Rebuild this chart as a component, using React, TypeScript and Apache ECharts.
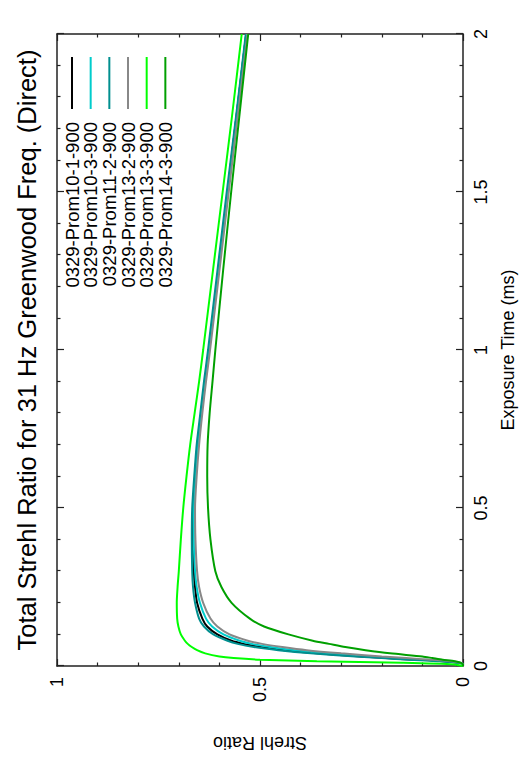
import React, { useEffect, useRef } from "react";
import * as echarts from "echarts";

const TITLE = "Total Strehl Ratio for 31 Hz Greenwood Freq. (Direct)";
const X_NAME = "Exposure Time (ms)";
const Y_NAME = "Strehl Ratio";

const TIMES = [0, 0.005, 0.01, 0.015, 0.02, 0.025, 0.03, 0.04, 0.05, 0.06, 0.07, 0.08, 0.1, 0.125, 0.15, 0.2, 0.25, 0.3, 0.4, 0.5, 0.6, 0.7, 0.8, 0.9, 1.0, 1.25, 1.5, 1.75, 2.0];

const NAMES = ["0329-Prom10-1-900", "0329-Prom10-3-900", "0329-Prom11-2-900", "0329-Prom13-2-900", "0329-Prom13-3-900", "0329-Prom14-3-900"];
const COLORS = ["#000000", "#00cccc", "#008f8f", "#888888", "#00ff00", "#00a000"];

const PROM10_1 = [0, 0, 0.01, 0.05, 0.12, 0.19, 0.25, 0.36, 0.44, 0.50, 0.54, 0.57, 0.605, 0.63, 0.642, 0.655, 0.66, 0.663, 0.665, 0.664, 0.660, 0.654, 0.645, 0.636, 0.626, 0.603, 0.580, 0.557, 0.534];
const PROM10_3 = [0, 0, 0.008, 0.04, 0.10, 0.17, 0.23, 0.335, 0.415, 0.475, 0.52, 0.55, 0.59, 0.618, 0.633, 0.648, 0.656, 0.66, 0.663, 0.663, 0.659, 0.653, 0.645, 0.636, 0.626, 0.603, 0.58, 0.557, 0.534];
const PROM11_2 = [0, 0, 0.012, 0.055, 0.13, 0.20, 0.265, 0.375, 0.455, 0.515, 0.555, 0.58, 0.615, 0.638, 0.65, 0.66, 0.665, 0.667, 0.668, 0.667, 0.662, 0.656, 0.647, 0.638, 0.628, 0.605, 0.582, 0.558, 0.535];
const PROM13_2 = [0, 0, 0.005, 0.03, 0.08, 0.14, 0.20, 0.30, 0.385, 0.445, 0.495, 0.53, 0.575, 0.605, 0.622, 0.64, 0.65, 0.655, 0.659, 0.66, 0.656, 0.65, 0.642, 0.633, 0.623, 0.600, 0.577, 0.554, 0.531];
const PROM13_3 = [0, 0.02, 0.15, 0.36, 0.50, 0.565, 0.60, 0.635, 0.655, 0.668, 0.678, 0.685, 0.695, 0.701, 0.704, 0.705, 0.703, 0.700, 0.695, 0.689, 0.681, 0.672, 0.661, 0.650, 0.640, 0.616, 0.592, 0.568, 0.545];
const PROM14_3 = [0, 0, 0.005, 0.02, 0.05, 0.075, 0.10, 0.18, 0.24, 0.29, 0.33, 0.37, 0.43, 0.49, 0.525, 0.57, 0.595, 0.61, 0.622, 0.628, 0.630, 0.629, 0.624, 0.617, 0.610, 0.591, 0.571, 0.550, 0.529];

const SERIES_VALUES = [PROM10_1, PROM10_3, PROM11_2, PROM13_2, PROM13_3, PROM14_3];

const FONT = "'Liberation Sans', Arial, Helvetica, sans-serif";

export default function App() {
  const ref = useRef<HTMLDivElement>(null);
  useEffect(() => {
    if (!ref.current) return;
    const chart = echarts.init(ref.current, null, { renderer: "svg" });
    const axisCommon = {
      type: "value" as const,
      axisLine: { show: true, onZero: false, lineStyle: { color: "#222", width: 1.5 } },
      axisTick: { show: true, inside: true, length: 7, lineStyle: { color: "#222", width: 1.2 } },
      minorTick: { show: true, splitNumber: 5, length: 3.5, lineStyle: { color: "#222", width: 1.2 } },
      splitLine: { show: false },
      minorSplitLine: { show: false },
    };
    const legendGraphics: any[] = [];
    NAMES.forEach((n, i) => {
      const y = 72 + i * 18.67;
      legendGraphics.push({
        type: "line",
        shape: { x1: 651, y1: y, x2: 703, y2: y },
        style: { stroke: COLORS[i], lineWidth: 2 },
      });
      legendGraphics.push({
        type: "text",
        x: 638,
        y: y,
        style: { text: n, fill: "#000", font: `18.5px ${FONT}`, textAlign: "right", textVerticalAlign: "middle" },
      });
    });
    chart.setOption({
      animation: false,
      backgroundColor: "#fff",
      textStyle: { fontFamily: FONT },
      grid: { left: 93, right: 34, top: 57, bottom: 69 },
      xAxis: [
        {
          ...axisCommon,
          position: "bottom",
          min: 0,
          max: 2,
          interval: 0.5,
          name: X_NAME,
          nameLocation: "middle",
          nameGap: 36,
          nameTextStyle: { fontSize: 18, color: "#000", fontFamily: FONT },
          axisLabel: { show: true, fontSize: 18, color: "#000", margin: 9, fontFamily: FONT },
        },
        {
          ...axisCommon,
          position: "top",
          min: 0,
          max: 2,
          interval: 0.5,
          axisLabel: { show: false },
        },
      ],
      yAxis: [
        {
          ...axisCommon,
          position: "left",
          min: 0,
          max: 1,
          interval: 0.5,
          name: Y_NAME,
          nameLocation: "middle",
          nameRotate: 90,
          nameGap: 68,
          nameTextStyle: { fontSize: 18, color: "#000", fontFamily: FONT },
          axisLabel: { show: true, fontSize: 18, color: "#000", margin: 11, fontFamily: FONT },
        },
        {
          ...axisCommon,
          position: "right",
          min: 0,
          max: 1,
          interval: 0.5,
          axisLabel: { show: false },
        },
      ],
      graphic: [
        {
          type: "text",
          x: 410,
          y: 14,
          style: { text: TITLE, fill: "#000", font: `25.5px ${FONT}`, textAlign: "center", textVerticalAlign: "top" },
        },
        ...legendGraphics,
      ],
      series: NAMES.map((n, i) => ({
        name: n,
        type: "line",
        xAxisIndex: 0,
        yAxisIndex: 0,
        showSymbol: false,
        symbol: "none",
        smooth: 0.25,
        lineStyle: { color: COLORS[i], width: 2 },
        itemStyle: { color: COLORS[i] },
        data: TIMES.map((t, j) => [t, SERIES_VALUES[i][j]]),
      })),
    });
    return () => chart.dispose();
  }, []);

  return (
    <div
      style={{
        position: "absolute",
        left: 0,
        top: 0,
        width: 760,
        height: 532,
        transformOrigin: "0 0",
        transform: "translate(0px, 760px) rotate(-90deg)",
        background: "#fff",
      }}
    >
      <div ref={ref} style={{ width: 760, height: 532 }} />
    </div>
  );
}
